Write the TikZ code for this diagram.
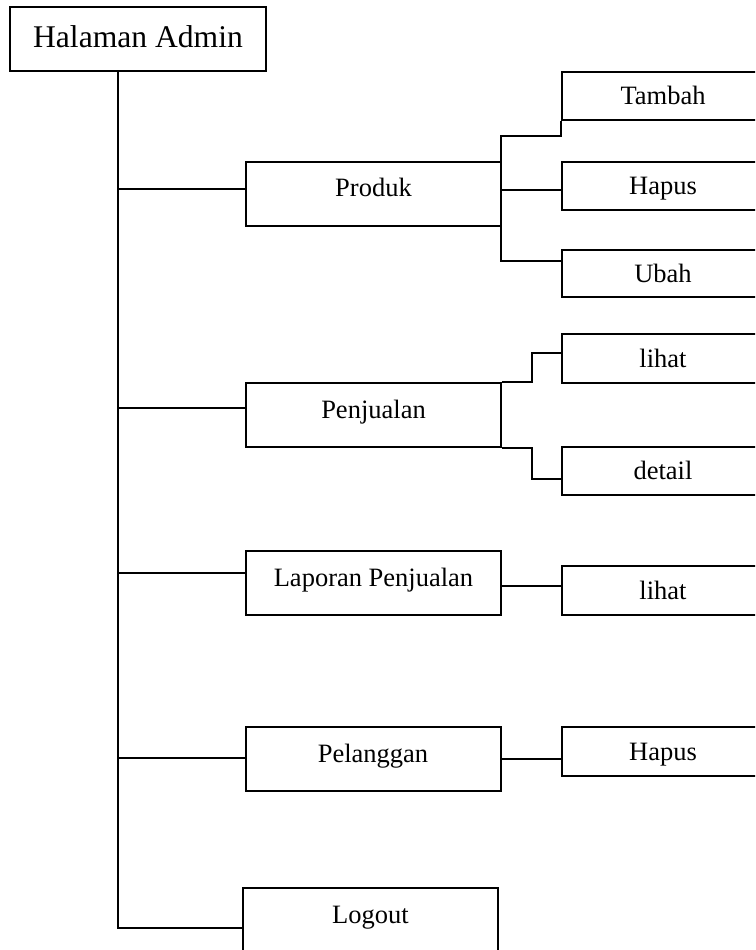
\documentclass[tikz,border=0pt]{standalone}
\usepackage{fontspec}
\setmainfont{Liberation Serif}
\usetikzlibrary{positioning, calc}
\tikzstyle{block} = [rectangle, draw=black, fill=white, minimum width=255pt, minimum height=64pt, inner sep=0pt, text centered, line width=2pt, font=\fontsize{26.5}{30}\selectfont, text height=17.5pt, text depth=10.6pt]
\tikzstyle{sub} = [block, minimum width=202pt, minimum height=48pt, text depth=0pt]
\tikzstyle{line} = [-, line width=2pt]

\begin{document}
\begin{tikzpicture}[x=1pt, y=-1pt]
        \useasboundingbox (0,0) rectangle (755,950);
        \clip (0,0) rectangle (755,950);

        \node [block, minimum width=256pt, font=\fontsize{31.6}{36}\selectfont, text height=20.9pt, text depth=3pt] (admin) at (138,39) {Halaman Admin};

        \node [block] (produk) at (373.5,193.5) {Produk};
        \node [block] (penjualan) at (373.5,415) {Penjualan};
        \node [block] (laporan) at (373.5,583) {Laporan Penjualan};
        \node [block] (pelanggan) at (373,759) {Pelanggan};
        \node [block] (logout) at (370.5,920) {Logout};

        \node [sub] (tambah) at (663,96) {Tambah};
        \node [sub] (hapusA) at (663,186) {Hapus};
        \node [sub, minimum height=47pt] (ubah) at (663,273.5) {Ubah};
        \node [sub, minimum height=49pt] (lihatA) at (663,358.5) {lihat};
        \node [sub] (detail) at (663,471) {detail};
        \node [sub, minimum height=49pt] (lihatB) at (663,590.5) {lihat};
        \node [sub, minimum height=49pt] (hapusB) at (663,751.5) {Hapus};

        \coordinate (top) at (118,71);
        \coordinate (jProduk) at (118,189);
        \coordinate (jPenjualan) at (118,408);
        \coordinate (jLaporan) at (118,573);
        \coordinate (jPelanggan) at (118,758);
        \coordinate (jLogout) at (118,928);

        \draw [line] (admin.south -| top) -- (jLogout) -- (jLogout -| logout.west);
        \draw [line] (jProduk) -- (jProduk -| produk.west);
        \draw [line] (jPenjualan) -- (jPenjualan -| penjualan.west);
        \draw [line] (jLaporan) -- (jLaporan -| laporan.west);
        \draw [line] (jPelanggan) -- (jPelanggan -| pelanggan.west);

        \coordinate (fTambah) at (501,136);
        \coordinate (fHapus) at (501,190);
        \coordinate (fUbah) at (501,261);
        \draw [line] (tambah.south west) -- (tambah.south west |- fTambah) -- (fTambah) -- (fUbah) -- (fUbah -| ubah.west);
        \draw [line] (fHapus) -- (fHapus -| hapusA.west);

        \coordinate (eLihat) at (562,353);
        \coordinate (eDetail) at (562,479);
        \draw [line] (penjualan.north east) -- ++(30,0) |- (eLihat);
        \draw [line] (penjualan.south east) -- ++(30,0) |- (eDetail);

        \coordinate (fLihat) at (501,586);
        \draw [line] (fLihat) -- (fLihat -| lihatB.west);
        \draw [line] (pelanggan.east) -- (pelanggan.east -| hapusB.west);
    \end{tikzpicture}
\end{document}
